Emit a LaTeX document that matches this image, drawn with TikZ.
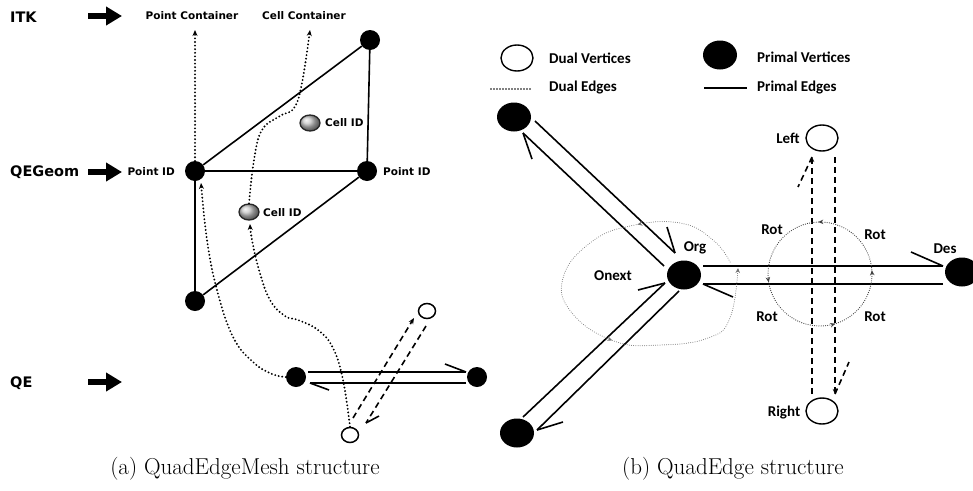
\documentclass[tikz,border=0pt]{standalone}
\usepackage{fontspec}
\usetikzlibrary{arrows.meta,decorations.markings,shapes.geometric}
\newfontfamily\lfont{DejaVu Sans}
\newfontfamily\rfont{Carlito}
\begin{document}
\begin{tikzpicture}[x=1pt,y=-1pt,
  pvl/.style={circle,fill=black,inner sep=0pt,minimum size=20pt},
  dvl/.style={ellipse,draw=black,fill=white,line width=1.5pt,inner sep=0pt,minimum width=17pt,minimum height=15pt},
  cellid/.style={ellipse,draw=black!85,line width=1.3pt,shade,ball color=gray!45,inner sep=0pt,minimum width=20pt,minimum height=16pt},
  pvr/.style={ellipse,fill=black,inner sep=0pt,minimum width=34pt,minimum height=29pt},
  dvr/.style={ellipse,draw=black,fill=white,line width=1.4pt,inner sep=0pt,minimum width=32pt,minimum height=26pt},
  lsmall/.style={font=\lfont\bfseries\fontsize{10.5}{12}\selectfont,inner sep=0pt},
  lbig/.style={font=\lfont\bfseries\fontsize{14.5}{16}\selectfont,inner sep=0pt},
  rtxt/.style={font=\rfont\bfseries\fontsize{15}{17}\selectfont,inner sep=0pt},
  capt/.style={font=\fontsize{23}{27}\selectfont,inner sep=0pt},
  edge/.style={line width=1.6pt},
  blockarrow/.style={line width=6pt,-{Triangle[length=16pt,width=18pt]}},
  ldot/.style={line width=2.1pt,line cap=round,dash pattern=on 0pt off 3.6pt},
  rdot/.style={line width=1.2pt,line cap=round,dash pattern=on 0pt off 2.2pt,black!75},
  legdot/.style={line width=1.6pt,line cap=round,dash pattern=on 0pt off 3pt},
  dsh/.style={line width=1.6pt,dash pattern=on 6pt off 4pt},
  ltip/.style={-{Stealth[length=6pt,width=5pt]}},
  rtip/.style={-{Stealth[length=5pt,width=4.5pt]}}
]
\useasboundingbox (0,0) rectangle (973,490);

% ================= left panel =================
\node[lbig,anchor=west] (itk) at (10,17) {ITK};
\node[lbig,anchor=west] (qegeom) at (10,172) {QEGeom};
\node[lbig,anchor=west] (qe) at (10,383) {QE};
\coordinate (a1s) at (88,16);  \coordinate (a1e) at (122,16);
\coordinate (a2s) at (88,172); \coordinate (a2e) at (122,172);
\coordinate (a3s) at (88,382); \coordinate (a3e) at (122,382);
\draw[blockarrow] (a1s) -- (a1e);
\draw[blockarrow] (a2s) -- (a2e);
\draw[blockarrow] (a3s) -- (a3e);

\node[lsmall] (pc) at (192,16) {Point Container};
\node[lsmall] (cc) at (304,16) {Cell Container};

\node[pvl] (v1) at (370,40) {};
\node[pvl] (v2) at (195,171) {};
\node[pvl] (v3) at (367,171) {};
\node[pvl] (v4) at (195,301) {};
\draw[edge] (v2) -- (v1);
\draw[edge] (v1) -- (v3);
\draw[edge] (v2) -- (v3);
\draw[edge] (v3) -- (v4);
\draw[edge] (v2) -- (v4);

\node[lsmall,anchor=east] (pid1) at (175,172) {Point ID};
\node[lsmall,anchor=west] (pid2) at (383,172) {Point ID};

\node[cellid] (c1) at (310,123) {};
\node[lsmall,anchor=west] (cl1) at (325,123) {Cell ID};
\node[cellid] (c2) at (249,212) {};
\node[lsmall,anchor=west] (cl2) at (263,213) {Cell ID};

% QE level
\node[pvl] (q1) at (296,377) {};
\node[pvl] (q2) at (477,377) {};
\node[dvl] (d1) at (427,311) {};
\node[dvl] (d2) at (350,435) {};

\coordinate (e1a) at (308,372); \coordinate (e1b) at (466,372); \coordinate (e1c) at (445,364);
\coordinate (e2a) at (466,383); \coordinate (e2b) at (310,383); \coordinate (e2c) at (329,390);
\draw[edge] (e1a) -- (e1b);
\draw[edge] (e1b) -- (e1c);
\draw[edge] (e2a) -- (e2b);
\draw[edge] (e2b) -- (e2c);

\coordinate (f1a) at (353,418); \coordinate (f1b) at (414,318);
\coordinate (f2a) at (426,326); \coordinate (f2b) at (366,423); \coordinate (f2c) at (379,416);
\draw[dsh,ltip] (f1a) -- (f1b);
\draw[dsh] (f2a) -- (f2b);
\draw[line width=1.6pt] (f2b) -- (f2c);

% dotted references
\coordinate (pcend) at (195,30);
\coordinate (ccend) at (310,30);
\draw[ldot,ltip] (v2.north) -- (pcend);
\draw[ldot,ltip] plot[smooth,tension=0.7] coordinates {(c2.north) (254,160) (262,130) (280,116) (294,108) (302,83) (ccend)};
\draw[ldot,ltip] plot[smooth,tension=0.7] coordinates {(q1.west) (272,374) (253,362) (233,337) (217,290) (207,240) (201,183)};
\draw[ldot,ltip] plot[smooth,tension=0.7] coordinates {(d2.north) (343,380) (333,348) (318,330) (298,320) (285,316) (270,300) (259,270) (252,240) (250,224)};

\node[capt,anchor=base] (capa) at (245,474) {(a) QuadEdgeMesh structure};

% ================= right panel =================
\node[dvr] (ldv) at (517,58) {};
\node[rtxt,anchor=west] (ldvt) at (549,58) {Dual Vertices};
\node[pvr] (lpv) at (720,55) {};
\node[rtxt,anchor=west] (lpvt) at (757,57) {Primal Vertices};
\coordinate (lde1) at (491,89); \coordinate (lde2) at (532,89);
\draw[legdot] (lde1) -- (lde2);
\node[rtxt,anchor=west] (ldet) at (549,88) {Dual Edges};
\coordinate (lpe1) at (704,88); \coordinate (lpe2) at (747,88);
\draw[edge] (lpe1) -- (lpe2);
\node[rtxt,anchor=west] (lpet) at (757,88) {Primal Edges};

\node[pvr] (tl) at (514,117) {};
\node[pvr] (org) at (684,275) {};
\node[pvr] (bl) at (517,433) {};
\node[pvr] (des) at (962,272) {};
\node[dvr] (left) at (822,138) {};
\node[dvr] (right) at (822,411) {};

\node[rtxt] (orgt) at (695,248) {Org};
\node[rtxt] (dest) at (945,249) {Des};
\node[rtxt] (onext) at (613,276) {Onext};
\node[rtxt] (leftt) at (788,138) {Left};
\node[rtxt] (rightt) at (784,412) {Right};
\node[rtxt] (rot1) at (772,230) {Rot};
\node[rtxt] (rot2) at (875,235) {Rot};
\node[rtxt] (rot3) at (767,317) {Rot};
\node[rtxt] (rot4) at (875,317) {Rot};

% Org - top left
\coordinate (g1a) at (535,121); \coordinate (g1b) at (675,253); \coordinate (g1c) at (667,227);
\coordinate (g2a) at (664,266); \coordinate (g2b) at (523,133); \coordinate (g2c) at (532,159);
\draw[edge] (g1a) -- (g1b); \draw[edge] (g1b) -- (g1c);
\draw[edge] (g2a) -- (g2b); \draw[edge] (g2b) -- (g2c);
% Org - bottom left
\coordinate (h1a) at (523,417); \coordinate (h1b) at (665,283); \coordinate (h1c) at (638,290);
\coordinate (h2a) at (679,291); \coordinate (h2b) at (537,430); \coordinate (h2c) at (563,422);
\draw[edge] (h1a) -- (h1b); \draw[edge] (h1b) -- (h1c);
\draw[edge] (h2a) -- (h2b); \draw[edge] (h2b) -- (h2c);
% Org - Des
\coordinate (k1a) at (703,266); \coordinate (k1b) at (943,266); \coordinate (k1c) at (911,252);
\coordinate (k2a) at (943,284); \coordinate (k2b) at (703,284); \coordinate (k2c) at (733,297);
\draw[edge] (k1a) -- (k1b); \draw[edge] (k1b) -- (k1c);
\draw[edge] (k2a) -- (k2b); \draw[edge] (k2b) -- (k2c);

% dual dashed edges
\coordinate (m1a) at (812,394); \coordinate (m1b) at (812,157); \coordinate (m1c) at (798,187);
\coordinate (m2a) at (835,157); \coordinate (m2b) at (835,394); \coordinate (m2c) at (849,362);
\draw[dsh,rtip] (m1a) -- (m1b);
\draw[dsh] (m1b) -- (m1c);
\draw[dsh,rtip] (m2a) -- (m2b);
\draw[dsh] (m2b) -- (m2c);

% Rot loop
\coordinate (rotc) at (820,274);
\draw[rdot,postaction={decorate},decoration={markings,
   mark=at position 0.039 with {\arrow{Stealth[length=5pt,width=4.5pt]}},
   mark=at position 0.283 with {\arrow{Stealth[length=5pt,width=4.5pt]}},
   mark=at position 0.553 with {\arrow{Stealth[length=5pt,width=4.5pt]}},
   mark=at position 0.825 with {\arrow{Stealth[length=5pt,width=4.5pt]}}}]
   (rotc) ++(10:52) arc[start angle=10,end angle=-350,radius=52];

% Onext loop
\draw[rdot,black!55,line width=1pt,rtip,postaction={decorate},decoration={markings,
   mark=at position 0.23 with {\arrow{Stealth[length=5pt,width=4.5pt]}},
   mark=at position 0.62 with {\arrow{Stealth[length=5pt,width=4.5pt]}}}]
   plot[smooth,tension=0.75] coordinates {(730,262) (713,240) (680,223) (630,226) (590,243) (563,278) (572,313) (614,341) (660,345) (708,338) (730,318) (738,268)};

\node[capt,anchor=base] (capb) at (733,474) {(b) QuadEdge structure};
\end{tikzpicture}
\end{document}
